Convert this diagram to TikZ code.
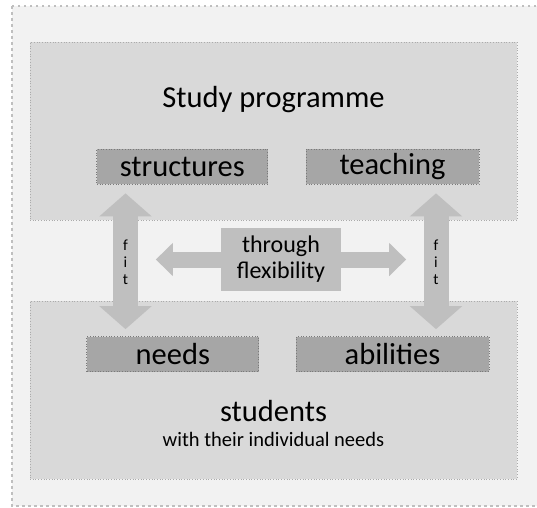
\documentclass[tikz,border=0pt]{standalone}
\usepackage{fontspec}
\setmainfont{Carlito}
\usetikzlibrary{positioning,arrows.meta,calc,backgrounds}
\definecolor{page}{HTML}{F2F2F2}
\definecolor{frame}{HTML}{BFBFBF}
\definecolor{panel}{HTML}{D9D9D9}
\definecolor{panelline}{HTML}{ABABAB}
\definecolor{item}{HTML}{A6A6A6}
\definecolor{itemline}{HTML}{7A7A7A}
\definecolor{flow}{HTML}{BFBFBF}

\begin{document}
\begin{tikzpicture}[x=1pt,y=-1pt,
  panel/.style={fill=panel,draw=panelline,dotted,line width=.7pt,
    minimum width=487pt,minimum height=178pt,inner sep=0pt},
  item/.style={fill=item,draw=itemline,dotted,line width=.7pt,
    minimum height=35pt,inner sep=0pt,font=\fontsize{30.5}{31}\selectfont},
  big/.style={font=\fontsize{30.5}{31}\selectfont,anchor=base},
  fitarrow/.style={flow,line width=25pt,
    {Triangle[length=23pt,width=51pt]}-{Triangle[length=23pt,width=51pt]}},
  flexarrow/.style={flow,line width=16pt,
    {Triangle[length=17pt,width=32pt]}-{Triangle[length=17pt,width=32pt]}}]
  \useasboundingbox (0,0) rectangle (537,507);

  % page and the two big panels
  \begin{scope}[on background layer]
    \draw[frame,line width=2pt,dash pattern=on 2.5pt off 3.5pt,fill=page]
      (12,6) rectangle (548,506);
    \node[panel] (prog) at (273.5,131){};
    \node[panel] (stud) at (273.5,390){};
  \end{scope}
  \node[big] (progtitle) at (273.5,107){Study programme};
  \node[big] (studtitle) at (273.5,421.5){students};
  \node[font=\fontsize{20.5}{22}\selectfont,anchor=base] (studnote) at (273.5,446.5){with their individual needs};

  % what the programme offers
  \node[item,minimum width=171pt] (structures) at (182.3,166.5){structures};
  \node[item,minimum width=173pt] (teaching) at (392.5,166.5){teaching};
  % what the students bring
  \node[item,minimum width=172pt] (needs) at (172.8,354){needs};
  \node[item,minimum width=193pt] (abilities) at (392.5,354){abilities};

  % flexibility in the middle
  \node[fill=flow,minimum width=120pt,minimum height=63pt,inner sep=0pt,
    align=center,font=\fontsize{24}{26}\selectfont] (flex) at (281,259.5){through\\flexibility};
  \begin{scope}[on background layer]
    \draw[flexarrow] ([xshift=-65pt]flex.west) -- ([xshift=65pt]flex.east);
  \end{scope}

  % fit arrows
  \coordinate (fitL) at (125.5,262);
  \coordinate (fitR) at (436,262);
  \draw[fitarrow] ([yshift=-9pt]structures.south -| fitL) -- ([yshift=7pt]needs.north -| fitL);
  \draw[fitarrow] ([yshift=-9pt]teaching.south -| fitR) -- ([yshift=7pt]abilities.north -| fitR);
  \node[align=center,font=\fontsize{15.5}{17}\selectfont] (fitLtext) at (fitL){f\\i\\t};
  \node[align=center,font=\fontsize{15.5}{17}\selectfont] (fitRtext) at (fitR){f\\i\\t};
\end{tikzpicture}
\end{document}
